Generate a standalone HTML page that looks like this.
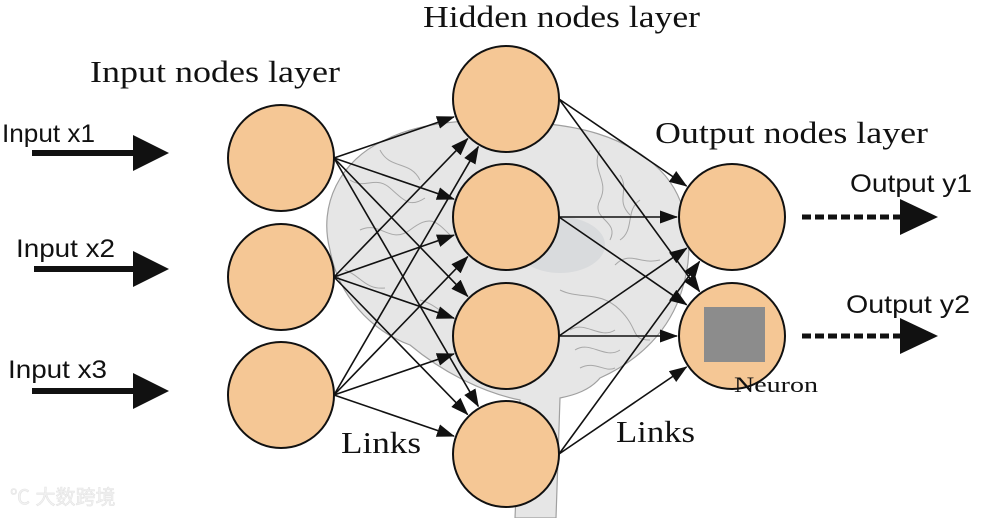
<!DOCTYPE html>
<html><head><meta charset="utf-8"><style>
html,body{margin:0;padding:0;background:#fff;width:1000px;height:518px;overflow:hidden}
svg{display:block}
.s{font-family:"Liberation Serif",serif;fill:#111}
.a{font-family:"Liberation Sans",sans-serif;fill:#111}
</style></head><body>
<svg id="sv" width="1000" height="518" viewBox="0 0 1000 518" xmlns="http://www.w3.org/2000/svg">
<defs>
<marker id="m" markerWidth="18" markerHeight="13" refX="17" refY="6.5" orient="auto" markerUnits="userSpaceOnUse">
<path d="M0,0 L18,6.5 L0,13 Z" fill="#111"/></marker>
</defs>
<g fill="#e6e6e6" stroke="#a0a0a0" stroke-width="1.2">
<path d="M330,250 C318,205 340,160 385,140 C420,122 470,118 520,122 C575,124 625,135 660,170 C690,200 695,250 682,290 C670,330 640,360 600,378 C590,390 575,395 560,398 L556,518 L515,518 L520,400 C480,392 440,370 410,345 C370,330 338,295 330,250 Z"/>
</g>
<g fill="none" stroke="#a8a8a8" stroke-width="1">
<path d="M350,180 c15,10 25,-5 40,8 s20,20 35,10"/><path d="M360,230 c20,-10 30,15 50,0 s25,-10 40,5"/>
<path d="M380,150 c10,20 30,10 40,30"/><path d="M600,150 c-10,20 10,30 0,50 s20,20 10,40"/>
<path d="M640,200 c-15,10 -5,30 -20,40"/><path d="M560,290 c20,10 40,0 60,20 s10,30 30,30"/>
<path d="M570,330 c15,-10 30,10 45,0 M575,350 c15,-10 30,10 45,0 M580,368 c15,-8 25,5 35,0"/>
<path d="M420,300 c20,5 30,25 50,20"/><path d="M660,260 c-20,5 -30,-10 -45,5"/>
<path d="M345,270 c15,5 20,20 40,18"/><path d="M620,175 c10,15 -5,25 10,40"/>
</g>
<ellipse cx="560" cy="245" rx="45" ry="28" fill="#d3d6d9" opacity="0.7"/>
<g id="edges" stroke="#111" stroke-width="1.6" fill="none"></g>
<g id="nodes" fill="#f5c795" stroke="#111" stroke-width="2"></g>
<rect x="704" y="307" width="61" height="55" fill="#8c8c8c"/>
<g fill="#111">
<rect x="32" y="150" width="103" height="6"/><path d="M133,135 L169,153 L133,171Z"/>
<rect x="34" y="266" width="101" height="6"/><path d="M133,251 L169,269 L133,287Z"/>
<rect x="32" y="388" width="103" height="6"/><path d="M133,373 L169,391 L133,409Z"/>
<path d="M900,199 L938,217 L900,235Z"/><path d="M900,318 L938,336 L900,354Z"/>
</g>
<line x1="802" y1="217" x2="902" y2="217" stroke="#111" stroke-width="5" stroke-dasharray="9,4"/>
<line x1="802" y1="336" x2="902" y2="336" stroke="#111" stroke-width="5" stroke-dasharray="9,4"/>
<text class="a" x="2" y="142" font-size="25" textLength="93" lengthAdjust="spacingAndGlyphs">Input x1</text>
<text class="a" x="16" y="257" font-size="25" textLength="99" lengthAdjust="spacingAndGlyphs">Input x2</text>
<text class="a" x="8" y="378" font-size="25" textLength="99" lengthAdjust="spacingAndGlyphs">Input x3</text>
<text class="a" x="850" y="192" font-size="25" textLength="122" lengthAdjust="spacingAndGlyphs">Output y1</text>
<text class="a" x="846" y="313" font-size="25" textLength="124" lengthAdjust="spacingAndGlyphs">Output y2</text>
<text class="s" x="423" y="27" font-size="31" textLength="277" lengthAdjust="spacingAndGlyphs">Hidden nodes layer</text>
<text class="s" x="90" y="82" font-size="31" textLength="250" lengthAdjust="spacingAndGlyphs">Input nodes layer</text>
<text class="s" x="655" y="143" font-size="31" textLength="273" lengthAdjust="spacingAndGlyphs">Output nodes layer</text>
<text class="s" x="341" y="453" font-size="31" textLength="80" lengthAdjust="spacingAndGlyphs">Links</text>
<text class="s" x="616" y="442" font-size="31" textLength="79" lengthAdjust="spacingAndGlyphs">Links</text>
<text class="s" x="734" y="392" font-size="22" textLength="84" lengthAdjust="spacingAndGlyphs">Neuron</text>
<text x="10" y="504" font-family="'Liberation Sans','Noto Sans CJK SC',sans-serif" font-size="20" fill="#f2f2f2" stroke="#e4e4e4" stroke-width="0.6">℃ 大数跨境</text>
</svg>
<script>
var NS="http://www.w3.org/2000/svg";
var I=[[281,158],[281,277],[281,395]],H=[[506,99],[506,217],[506,336],[506,454]],O=[[732,217],[732,336]],R=53;
var eg=document.getElementById('edges'),nd=document.getElementById('nodes');
function edge(a,b){var sx=a[0]+R,sy=a[1];var dx=b[0]-sx,dy=b[1]-sy,d=Math.hypot(dx,dy);
var l=document.createElementNS(NS,'line');
l.setAttribute('x1',sx);l.setAttribute('y1',sy);
l.setAttribute('x2',b[0]-dx/d*(R+2));l.setAttribute('y2',b[1]-dy/d*(R+2));
l.setAttribute('marker-end','url(#m)');eg.appendChild(l);}
I.forEach(function(a){H.forEach(function(b){edge(a,b)})});
H.forEach(function(a){O.forEach(function(b){edge(a,b)})});
I.concat(H,O).forEach(function(p){var c=document.createElementNS(NS,'circle');
c.setAttribute('cx',p[0]);c.setAttribute('cy',p[1]);c.setAttribute('r',R);nd.appendChild(c);});
</script>
</body></html>
